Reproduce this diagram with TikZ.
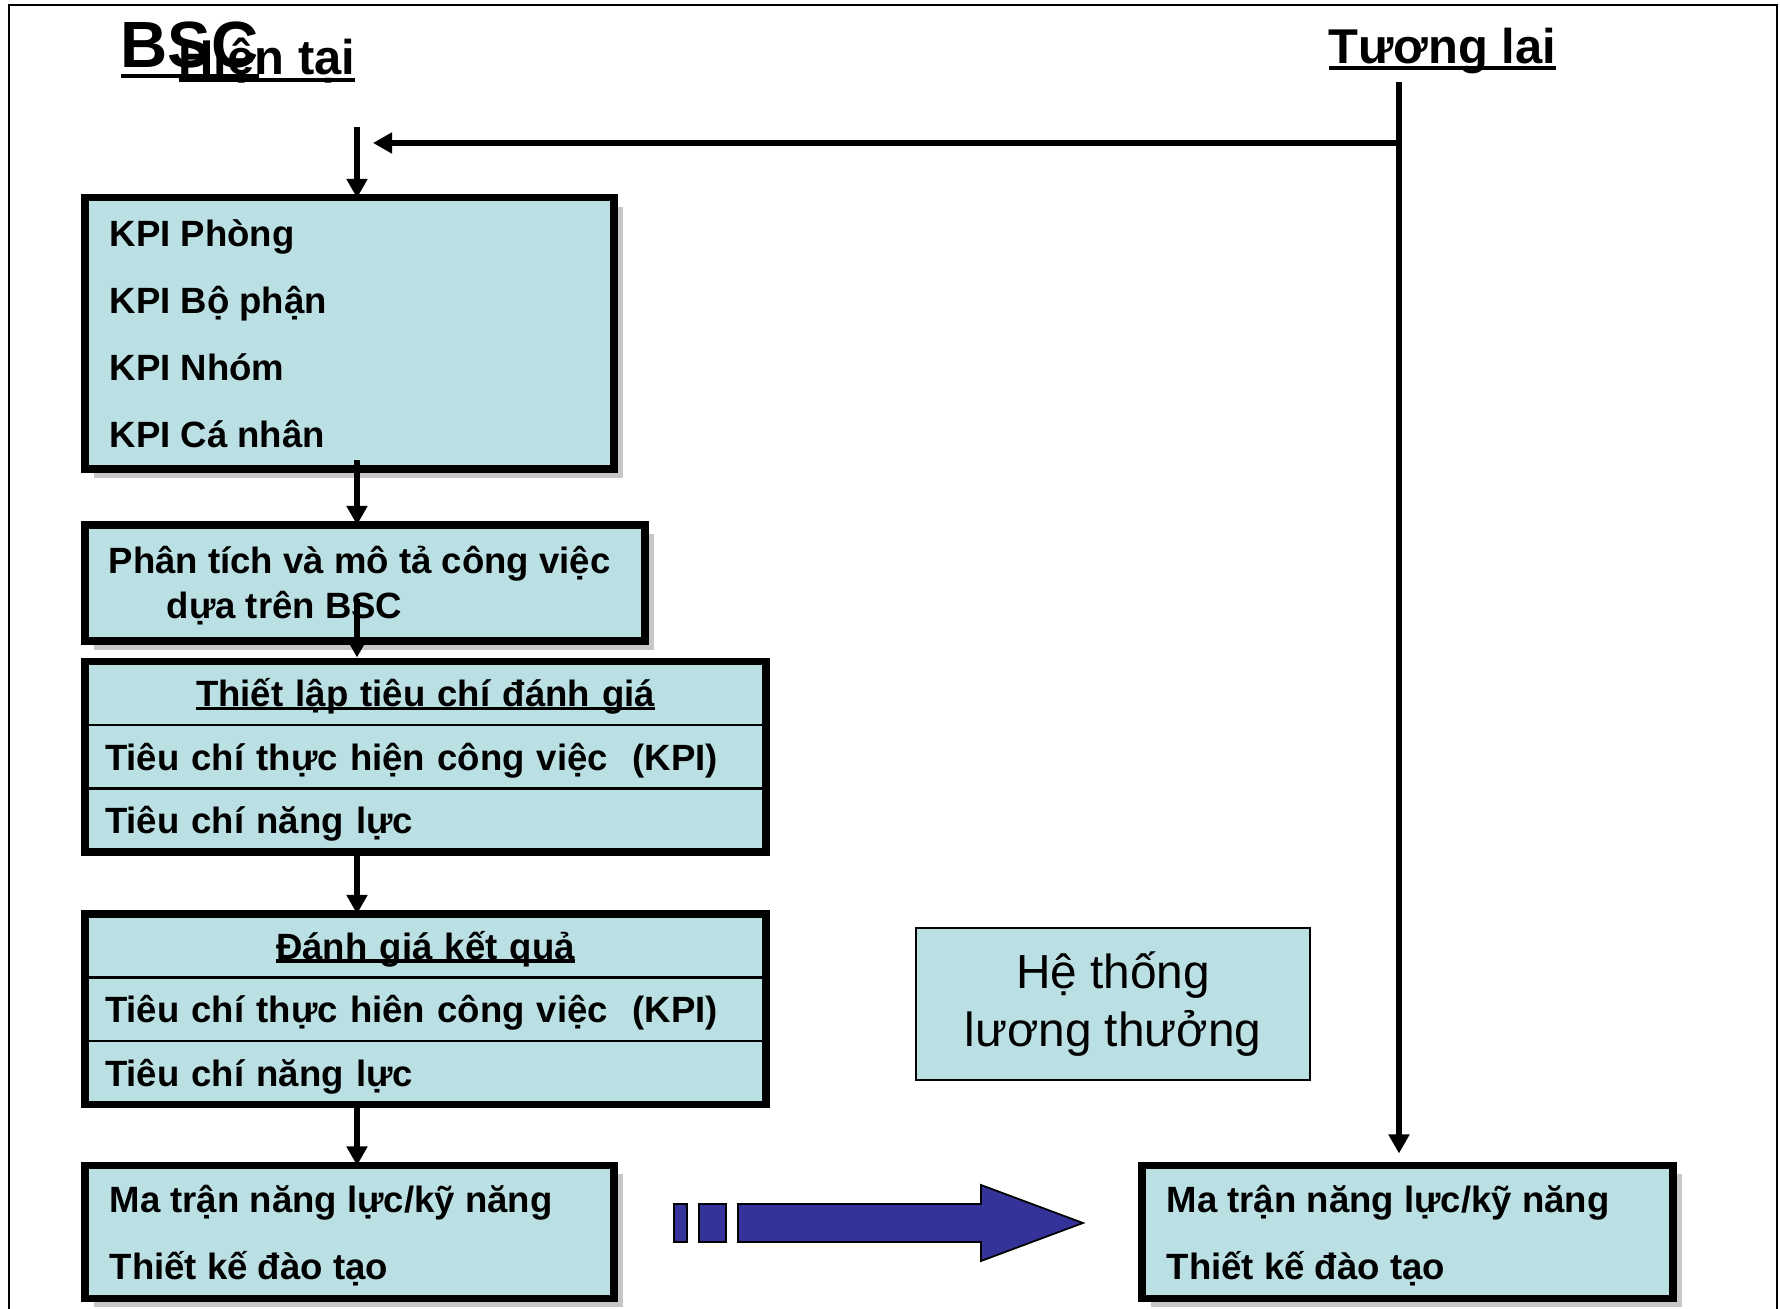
\documentclass[tikz,border=0pt]{standalone}
\usepackage{fontspec}
\setmainfont{Liberation Sans}
\usetikzlibrary{positioning,calc,shadows,arrows.meta}
\definecolor{boxfill}{RGB}{187,224,227}
\definecolor{arrowblue}{RGB}{51,51,153}
\newsavebox\ulbox
\newcommand\boxfont{\bfseries\fontsize{10.4}{12.6}\selectfont}
\newcommand\ulat[2]{\sbox\ulbox{#1}\rlap{\rule[-#2]{\wd\ulbox}{1pt}}\usebox\ulbox}
\tikzset{
  box/.style={draw, line width=2pt, fill=boxfill, outer sep=0pt, inner sep=0pt, anchor=north west},
  shadowbox/.style={box, drop shadow={shadow xshift=0.09cm, shadow yshift=-0.09cm, fill=black!22, opacity=1}},
  rowbox/.style={draw, line width=0.8pt, fill=boxfill, outer sep=0pt, inner xsep=0.2cm, inner ysep=0pt,
    minimum height=0.635cm, text width=6.41cm, text height=0.27cm, text depth=0pt, font=\boxfont},
  txt/.style={anchor=base west, inner sep=0pt, font=\boxfont},
  title/.style={anchor=base west, inner sep=0pt, font=\bfseries\fontsize{13.9}{16}\selectfont},
  conn/.style={line width=1.7pt, -{Triangle[length=0.19cm,width=0.2cm]}}
}
\begin{document}
\begin{tikzpicture}
\useasboundingbox (0,0) rectangle (17.8,-13.09);
\draw[line width=0.7pt] (0.09,-13.3) |- (17.77,-0.05) -- (17.77,-13.3);

\node[title, font=\bfseries\fontsize{18.6}{21}\selectfont] (bsc) at (1.20,-0.68) {\ulat{BSC}{0.1cm}};
\node[title] (now-t) at (1.78,-0.75) {\ulat{Hiện tại}{0.07cm}};
\node[title] (fut-t) at (13.28,-0.64) {\ulat{Tương lai}{0.06cm}};

\node[shadowbox, minimum width=5.29cm, minimum height=2.71cm] (kpi) at (0.85,-1.98) {};
\foreach \t [count=\i] in {KPI Phòng, KPI Bộ phận, KPI Nhóm, KPI Cá nhân}
  \node[txt] (kpi-\i) at ($(kpi.north west)+(0.24,{-0.49-0.667*(\i-1)})$) {\t};

\node[shadowbox, minimum width=5.60cm, minimum height=1.16cm] (job) at (0.85,-5.25) {};
\node[txt] (job-1) at ($(job.north west)+(0.23,-0.49)$) {Phân tích và mô tả công việc};
\node[txt] (job-2) at ($(job.north west)+(0.81,-0.935)$) {dựa trên BSC};

\node[rowbox, align=center, anchor=north west] (crit-h) at (0.85,-6.615) {\ulat{Thiết lập tiêu chí đánh giá}{0.035cm}};
\node[rowbox, align=left, below=0pt of crit-h] (crit-1) {Tiêu chí thực hiện công việc\ \ (KPI)};
\node[rowbox, align=left, below=0pt of crit-1] (crit-2) {Tiêu chí năng lực};
\draw[line width=2pt] (crit-h.north west) rectangle (crit-2.south east);

\node[rowbox, align=center, anchor=north west] (eval-h) at (0.85,-9.14) {\ulat{Đánh giá kết quả}{0.035cm}};
\node[rowbox, align=left, below=0pt of eval-h] (eval-1) {Tiêu chí thực hiên công việc\ \ (KPI)};
\node[rowbox, align=left, below=0pt of eval-1] (eval-2) {Tiêu chí năng lực};
\draw[line width=2pt] (eval-h.north west) rectangle (eval-2.south east);

\node[shadowbox, minimum width=5.29cm, minimum height=1.33cm] (skill) at (0.85,-11.655) {};
\node[shadowbox, minimum width=5.31cm, minimum height=1.33cm] (skillf) at (11.42,-11.655) {};
\foreach \b in {skill,skillf} {
  \node[txt] (\b-1) at ($(\b.north west)+(0.24,-0.475)$) {Ma trận năng lực/kỹ năng};
  \node[txt] (\b-2) at ($(\b.north west)+(0.24,-1.145)$) {Thiết kế đào tạo};
}

\node[draw, line width=0.7pt, fill=boxfill, minimum width=3.94cm, minimum height=1.52cm, align=center,
  font=\fontsize{13.6}{16.6}\selectfont] (pay) at (11.13,-10.04) {Hệ thống\\lương thưởng};

\begin{scope}[fill=arrowblue, draw=black, line width=0.5pt]
  \filldraw (6.74,-12.04) rectangle (6.87,-12.42);
  \filldraw (6.99,-12.04) rectangle (7.26,-12.42);
  \filldraw (7.38,-12.04) -- (9.81,-12.04) -- (9.81,-11.85) -- (10.83,-12.23)
    -- (9.81,-12.61) -- (9.81,-12.42) -- (7.38,-12.42) -- cycle;
\end{scope}

\coordinate (now) at (3.57,-1.27);
\coordinate (fut) at (13.99,-0.82);
\coordinate (back) at (3.73,-1.43);
\draw[conn] (fut) -- ($(fut |- skillf.north)+(0,0.12)$);
\draw[conn] (fut |- back) -- (back);
\draw[conn] (now) -- (now |- kpi.north);
\draw[conn] ($(now |- kpi.south)+(0,0.09)$) -- (now |- job.north);
\draw[conn] ($(now |- job.south)+(0,0.42)$) -- ($(now |- crit-h.north)+(0,0.04)$);
\draw[conn] (now |- crit-2.south) -- (now |- eval-h.north);
\draw[conn] (now |- eval-2.south) -- (now |- skill.north);
\end{tikzpicture}
\end{document}
